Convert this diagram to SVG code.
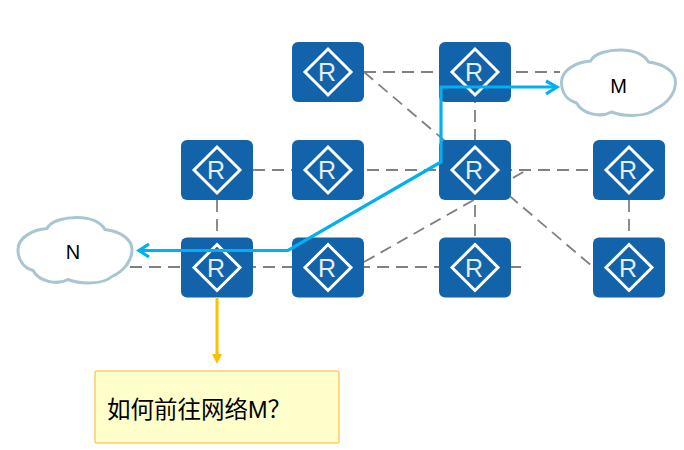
<svg xmlns="http://www.w3.org/2000/svg" width="684" height="450" viewBox="0 0 684 450">
<style>
.link{fill:none;stroke:#808080;stroke-width:1.8;stroke-dasharray:12 7}
.box{fill:#1363AB}
.dia{fill:none;stroke:#fff;stroke-width:3}
.r{font:25px "Liberation Sans",Arial,sans-serif;fill:#E4EEF7;text-anchor:middle}
.cloud{fill:#fff;stroke:#A9C5D1;stroke-width:3}
.lbl{font:20px "Liberation Sans",Arial,sans-serif;fill:#000;text-anchor:middle}
.route{fill:none;stroke:#00B0F0;stroke-width:3.2}
</style>
<defs>
<g id="router">
<rect class="box" x="-36" y="-30" width="72" height="60" rx="6"/>
<path class="dia" d="M0-23L23 0L0 23L-23 0Z"/>
<text class="r" x="-1" y="9">R</text>
</g>
<path id="cloudshape" class="cloud" d="M-57 0C-57-12-42-20-28-21C-24-29-10-32 2-32C14-32 25-28 30-20C46-18 57-10 57 0C57 12 48 22 37 27C28 35 6 35-7 30C-18 36-36 32-42 21C-52 18-57 10-57 0Z"/>
</defs>
<g id="connectors">
<path class="link" d="M364 72H560"/>
<path class="link" d="M364 72L593 267"/>
<path class="link" d="M253 170H593"/>
<path class="link" d="M475 72V267"/>
<path class="link" d="M629 200V238"/>
<path class="link" d="M217 200V238"/>
<path class="link" d="M130 267H521"/>
<path class="link" d="M364 262L525 171"/>
</g>
<g id="r1"><use href="#router" x="328" y="72"/></g>
<g id="r2"><use href="#router" x="475" y="72"/></g>
<g id="r3"><use href="#router" x="217" y="170"/></g>
<g id="r4"><use href="#router" x="328" y="170"/></g>
<g id="r5"><use href="#router" x="475" y="170"/></g>
<g id="r6"><use href="#router" x="629" y="170"/></g>
<g id="r7"><use href="#router" x="217" y="267.5"/></g>
<g id="r8"><use href="#router" x="328" y="267.5"/></g>
<g id="r9"><use href="#router" x="475" y="267.5"/></g>
<g id="r10"><use href="#router" x="629" y="267.5"/></g>
<g id="cloud-m"><use href="#cloudshape" x="618.500" y="82"/><text class="lbl" x="618.500" y="93">M</text></g>
<g id="cloud-n"><use href="#cloudshape" x="75" y="249.500"/><text class="lbl" x="73" y="259">N</text></g>
<g id="routes">
<path class="route" d="M555 87H441V162L288 250.500H138"/>
<path class="route" d="M546 81L557 87L546 94"/>
<path class="route" d="M149 244L139 250.500L149 257"/>
<path d="M217 297V354" fill="none" stroke="#FFC000" stroke-width="3"/>
<path d="M212 354H222L217 364Z" fill="#FFC000"/>
</g>
<g id="note">
<rect x="95" y="371" width="244" height="72" rx="2" fill="#FFFFCC" stroke="#FFCC66" stroke-width="1.500"/>
<text x="107" y="418" font-family="'Liberation Sans','Noto Sans CJK SC',sans-serif" font-size="23.500" fill="#000">如何前往网络M？</text>
</g>
</svg>
